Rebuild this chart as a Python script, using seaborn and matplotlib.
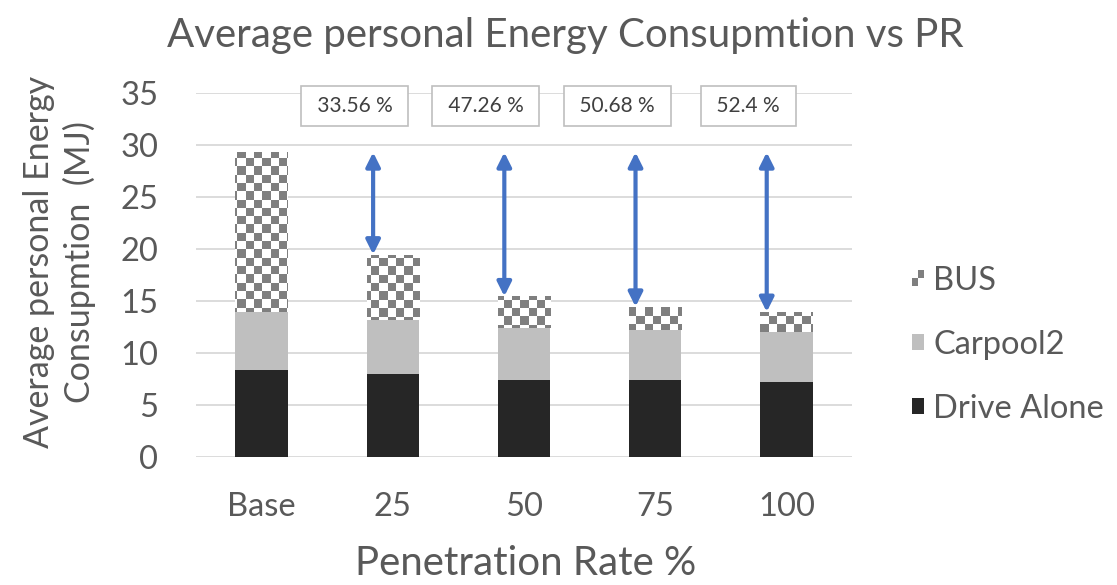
import numpy as np
import matplotlib
matplotlib.use("Agg")
import matplotlib.pyplot as plt
from matplotlib.colors import ListedColormap
from matplotlib.patches import Rectangle
from matplotlib.legend_handler import HandlerBase
import seaborn as sns

# ---- data -------------------------------------------------------------
categories = ["Base", "25", "50", "75", "100"]
drive_alone = [8.4, 8.0, 7.4, 7.4, 7.2]
carpool2 = [5.5, 5.2, 5.0, 4.8, 4.8]
bus = [15.4, 6.27, 3.05, 2.25, 1.95]
reduction_pct = ["33.56", "47.26", "50.68", "52.4"]
y_ticks = [0, 5, 10, 15, 20, 25, 30, 35]

# ---- style ------------------------------------------------------------
sns.set_style("white")
plt.rcParams["font.family"] = ["Lato", "DejaVu Sans"]
TEXT = "#595959"
GRID = "#d9d9d9"
DRIVE_C = "#262626"
CARPOOL_C = "#bfbfbf"
BUS_DARK = "#7f7f7f"
ARROW_C = "#4472c4"

W_PX, H_PX = 1117, 585
fig = plt.figure(figsize=(W_PX / 100, H_PX / 100), dpi=100)
ax_rect = [196 / W_PX, 128 / H_PX, 656 / W_PX, 364 / H_PX]
ax = fig.add_axes(ax_rect)

drive_arr = np.array(drive_alone)
car_top = drive_arr + np.array(carpool2)
totals = car_top + np.array(bus)

# stacked bars drawn as overlapping cumulative bars
bar_kw = dict(width=0.4, saturation=1, linewidth=0, ax=ax, order=categories)
sns.barplot(x=categories, y=totals, color="white", zorder=2, **bar_kw)
bus_patches = list(ax.patches)
sns.barplot(x=categories, y=car_top, color=CARPOOL_C, zorder=4, **bar_kw)
sns.barplot(x=categories, y=drive_arr, color=DRIVE_C, zorder=5, **bar_kw)

ax.set_xlim(-0.5, 4.5)
ax.set_ylim(0, 35)
ax.set_yticks(y_ticks)

# checkerboard fill for the BUS segment, clipped to each segment
cell = 8.3
nx = int(round(ax_rect[2] * W_PX / cell))
ny = int(round(ax_rect[3] * H_PX / cell))
ii, jj = np.indices((ny, nx))
board = (ii + jj) % 2
cmap = ListedColormap(["white", BUS_DARK])
for i, p in enumerate(bus_patches):
    seg = Rectangle((p.get_x(), car_top[i]), p.get_width(), bus[i],
                    transform=ax.transData)
    im = ax.imshow(board, cmap=cmap, extent=(-0.5, 4.5, 0, 35), aspect="auto",
                   interpolation="nearest", origin="lower", zorder=3)
    im.set_clip_path(seg)
ax.set_xlim(-0.5, 4.5)
ax.set_ylim(0, 35)

# grid, spines, ticks
ax.grid(axis="y", color=GRID, linewidth=1.3, zorder=0)
ax.set_axisbelow(True)
for s in ax.spines.values():
    s.set_visible(False)
ax.tick_params(axis="both", length=0, labelsize=23.5, colors=TEXT)
ax.tick_params(axis="y", pad=27)
ax.tick_params(axis="x", pad=25)

# reduction arrows and percentage boxes
for k, pct in enumerate(reduction_pct, start=1):
    xa = k - 0.15
    ax.annotate("", xy=(xa, totals[k]), xytext=(xa, totals[0]),
                arrowprops=dict(arrowstyle="<|-|>", color=ARROW_C, lw=3.0,
                                mutation_scale=21, shrinkA=0, shrinkB=0),
                zorder=6)
    ax.text(k - 0.29, 33.75, f" {pct} % ", ha="center", va="center", fontsize=15,
            color="#404040", zorder=7,
            bbox=dict(boxstyle="square,pad=0.5", fc="white", ec="#bfbfbf", lw=1.2))

# titles and labels
fig.suptitle("Average personal Energy Consupmtion vs PR", x=565 / W_PX,
             y=1 - 47 / H_PX, va="baseline", fontsize=29, color=TEXT)
ax.set_xlabel("Penetration Rate %", fontsize=29, color=TEXT)
ax.xaxis.set_label_coords(0.503, (457 - 575) / 364)
ax.xaxis.label.set_va("baseline")
ax.set_ylabel("Average personal Energy\nConsupmtion  (MJ)", fontsize=24.5,
              color=TEXT, linespacing=1.3)
ax.yaxis.set_label_coords((96 - 196) / 656, (457 - 262) / 364)


class CheckerHandler(HandlerBase):
    def create_artists(self, legend, orig_handle, xdescent, ydescent,
                       width, height, fontsize, trans):
        arts = []
        w, h = width / 2, height / 2
        for i in range(2):
            for j in range(2):
                fc = BUS_DARK if (i + j) % 2 == 0 else "white"
                arts.append(Rectangle((-xdescent + i * w, -ydescent + j * h), w, h,
                                      facecolor=fc, edgecolor="none", transform=trans))
        return arts


bus_handle = Rectangle((0, 0), 1, 1)
car_handle = Rectangle((0, 0), 1, 1, facecolor=CARPOOL_C, edgecolor="none")
drive_handle = Rectangle((0, 0), 1, 1, facecolor=DRIVE_C, edgecolor="none")
leg = fig.legend([bus_handle, car_handle, drive_handle], ["BUS", "Carpool2", "Drive Alone"],
                 handler_map={bus_handle: CheckerHandler()},
                 loc="center left", bbox_to_anchor=(912 / W_PX, 1 - 345 / H_PX),
                 frameon=False, fontsize=23.5, labelcolor=TEXT,
                 handlelength=0.37, handleheight=0.37, handletextpad=0.28,
                 labelspacing=1.04, borderpad=0, borderaxespad=0)

fig.savefig("out.png", dpi=100)
